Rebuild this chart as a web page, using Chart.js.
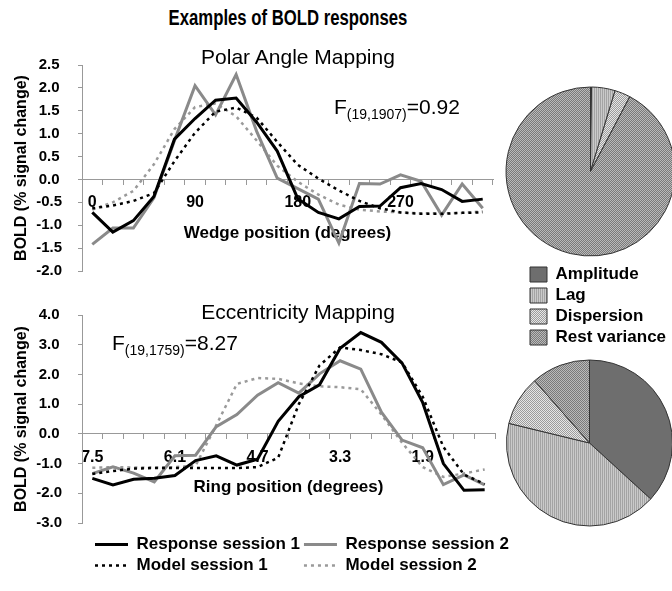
<!DOCTYPE html>
<html>
<head>
<meta charset="utf-8">
<script src="https://cdn.jsdelivr.net/npm/chart.js@4.4.1/dist/chart.umd.min.js"></script>
<style>
  body { margin: 0; width: 672px; height: 591px; overflow: hidden; background: #fff; font-family: 'Liberation Sans', Arial, sans-serif; }
  canvas { position: absolute; }
  .txt { position: absolute; color: #000; white-space: nowrap; line-height: 24px; z-index: 2; }
  .txt sub { font-size: 14px; }
</style>
</head>
<body>
<div class="txt" style="left:88px; top:6px; width:400px; text-align:center; font-weight:bold; font-size:22px; transform:scaleX(0.76)">Examples of BOLD responses</div>
<div class="txt" style="left:168px; top:45px; width:260px; text-align:center; font-size:21px">Polar Angle Mapping</div>
<div class="txt" style="left:334px; top:95px; font-size:21px">F<sub>(19,1907)</sub>=0.92</div>
<div class="txt" style="left:168px; top:300px; width:260px; text-align:center; font-size:21px">Eccentricity Mapping</div>
<div class="txt" style="left:112px; top:331px; font-size:21px">F<sub>(19,1759)</sub>=8.27</div>

<canvas id="polarChart" width="500" height="256" style="left:0; top:40px"></canvas>
<canvas id="ringChart" width="502" height="258" style="left:0; top:290px"></canvas>
<canvas id="lineLegend" width="900" height="50" style="left:91px; top:532px"></canvas>
<canvas id="polarPie" width="182" height="183" style="left:500px; top:80px"></canvas>
<canvas id="pieLegend" width="160" height="200" style="left:526px; top:262px"></canvas>
<canvas id="ringPie" width="182" height="176" style="left:500px; top:355px"></canvas>

<script>
// wedge positions (degrees) and the labels that are shown on the axis
const polarPositions = ['0','18','36','54','72','90','108','126','144','162','180','198','216','234','252','270','288','306','324','342']
const polarTicks = ['0','90','180','270']
const polarResp1 = [-0.72,-1.15,-0.9,-0.37,0.88,1.33,1.73,1.78,1.25,0.62,-0.42,-0.72,-0.86,-0.59,-0.58,-0.18,-0.09,-0.22,-0.48,-0.43]
const polarResp2 = [-1.42,-1.06,-1.06,-0.4,0.85,2.05,1.41,2.29,1.05,0.03,-0.2,-0.43,-1.39,-0.09,-0.1,0.1,-0.04,-0.78,-0.1,-0.63]
const polarModel1 = [-0.63,-0.57,-0.47,-0.3,0.4,1.02,1.48,1.57,1.35,0.82,0.32,0.02,-0.24,-0.47,-0.63,-0.72,-0.75,-0.75,-0.73,-0.72]
const polarModel2 = [-0.66,-0.5,-0.25,0.33,1.1,1.58,1.66,1.38,0.85,0.3,-0.05,-0.33,-0.55,-0.66,-0.7,-0.72,-0.74,-0.74,-0.73,-0.7]

// ring positions (degrees)
const ringPositions = ['7.5','7.15','6.8','6.45','6.1','5.75','5.4','5.05','4.7','4.35','4.0','3.65','3.3','2.95','2.6','2.25','1.9','1.55','1.2','0.85']
const ringTicks = ['7.5','6.1','4.7','3.3','1.9']
const ringResp1 = [-1.5,-1.72,-1.53,-1.49,-1.4,-0.9,-0.74,-1.05,-0.85,0.42,1.25,1.65,2.88,3.41,3.08,2.38,1.05,-1.0,-1.9,-1.88]
const ringResp2 = [-1.34,-1.11,-1.32,-1.62,-0.74,-0.72,0.24,0.65,1.3,1.72,1.37,2.02,2.46,2.18,0.73,-0.21,-0.47,-1.71,-1.38,-1.72]
const ringModel1 = [-1.35,-1.25,-1.17,-1.15,-1.15,-1.15,-1.15,-1.15,-1.12,-0.8,1.0,2.3,2.91,2.82,2.68,2.4,1.25,-0.44,-1.37,-1.69]
const ringModel2 = [-1.14,-1.12,-1.13,-1.13,-1.12,-1.07,0.29,1.68,1.88,1.85,1.7,1.6,1.57,1.5,0.65,-0.3,-1.12,-1.45,-1.33,-1.2]

// variance split (%)
const pieLabels = ['Amplitude','Lag','Dispersion','Rest variance']
const polarShares = [0.2, 4.5, 3.0, 92.3]
const ringShares = [36.8, 42.0, 9.7, 11.5]

const seriesNames = ['Response session 1','Model session 1','Response session 2','Model session 2']

Chart.defaults.font.family = "'Liberation Sans', Arial, sans-serif"
Chart.defaults.color = '#000'
Chart.defaults.animation = false

// line styles, same order as seriesNames
const styles = [
  {borderColor: '#000', borderWidth: 3},
  {borderColor: '#000', borderWidth: 2.5, borderDash: [3, 4]},
  {borderColor: '#8a8a8a', borderWidth: 3},
  {borderColor: '#9a9a9a', borderWidth: 2.5, borderDash: [3, 4]}
]

function lineSets(series){
  return series.map((d, i) => Object.assign({
    label: seriesNames[i],
    data: d,
    backgroundColor: styles[i].borderColor,
    pointRadius: 0,
    tension: 0,
    fill: false
  }, styles[i]))
}

function lineOptions(shown, xTitle, yMin, yMax, step){
  return {
    responsive: false,
    events: [],
    layout: {padding: {left: 8, right: 7, top: 15, bottom: 11}},
    plugins: {legend: {display: false}, tooltip: {enabled: false}},
    scales: {
      x: {
        position: {y: 0},
        offset: true,
        grid: {drawOnChartArea: false, offset: true, tickLength: 5, color: '#999'},
        border: {color: '#999'},
        ticks: {
          autoSkip: false, maxRotation: 0, padding: 9,
          font: {size: 16, weight: 'bold'},
          callback: function(v){
            const l = this.getLabelForValue(v)
            return shown.includes(l) ? l : ''
          }
        },
        title: {display: true, text: xTitle, font: {size: 17, weight: 'bold'}, padding: {top: 1, bottom: 0}}
      },
      y: {
        min: yMin, max: yMax,
        afterFit: s => { s.width = 74 },
        grid: {drawOnChartArea: false, tickLength: 4, color: '#999'},
        border: {color: '#999'},
        ticks: {
          stepSize: step, padding: 16, crossAlign: 'center',
          font: {size: 15, weight: 'bold'},
          callback: v => v.toFixed(1)
        },
        title: {display: true, text: 'BOLD (% signal change)', font: {size: 16, weight: 'bold'}, padding: {top: 4, bottom: 0}}
      }
    }
  }
}

const polarOpts = lineOptions(polarTicks, 'Wedge position (degrees)', -2, 2.5, 0.5)
polarOpts.layout.padding.top = 16
polarOpts.layout.padding.bottom = 12
new Chart('polarChart', {
  type: 'line',
  data: {labels: polarPositions, datasets: lineSets([polarResp1, polarModel1, polarResp2, polarModel2])},
  options: polarOpts
})

new Chart('ringChart', {
  type: 'line',
  data: {labels: ringPositions, datasets: lineSets([ringResp1, ringModel1, ringResp2, ringModel2])},
  options: lineOptions(ringTicks, 'Ring position (degrees)', -3, 4, 1)
})

// legend for the two line charts, two columns
new Chart('lineLegend', {
  type: 'line',
  data: {labels: [], datasets: lineSets([[], [], [], []])},
  options: {
    responsive: false,
    events: [],
    scales: {x: {display: false}, y: {display: false}},
    plugins: {
      tooltip: {enabled: false},
      legend: {
        position: 'left', align: 'start',
        labels: {boxWidth: 33, boxHeight: 0, padding: 4, color: '#000', font: {size: 17, weight: 'bold'}}
      }
    }
  }
})

// fill patterns for the pies
function pattern(a, b, kind){
  const c = document.createElement('canvas')
  c.width = 2; c.height = 2
  const g = c.getContext('2d')
  g.fillStyle = a; g.fillRect(0, 0, 2, 2)
  g.fillStyle = b
  if(kind === 'stripes'){ g.fillRect(1, 0, 1, 2) }
  else { g.fillRect(0, 0, 1, 1); g.fillRect(1, 1, 1, 1) }
  return g.createPattern(c, 'repeat')
}
const pieFills = [
  '#6e6e6e',
  pattern('#a4a4a4', '#cacaca', 'stripes'),
  pattern('#9c9c9c', '#e6e6e6', 'checker'),
  pattern('#7a7a7a', '#bababa', 'checker')
]

function pieOptions(r, pad){
  return {
    responsive: false,
    events: [],
    radius: r,
    layout: {padding: pad},
    plugins: {legend: {display: false}, tooltip: {enabled: false}}
  }
}

new Chart('polarPie', {
  type: 'pie',
  data: {labels: pieLabels, datasets: [{data: polarShares, backgroundColor: pieFills, borderColor: '#333', borderWidth: 1}]},
  options: pieOptions(84.5, {right: 1})
})

new Chart('ringPie', {
  type: 'pie',
  data: {labels: pieLabels, datasets: [{data: ringShares, backgroundColor: pieFills, borderColor: '#333', borderWidth: 1}]},
  options: pieOptions(83, {right: 3})
})

// shared legend of the two pies, one item per row
new Chart('pieLegend', {
  type: 'pie',
  data: {labels: pieLabels, datasets: [{data: [], backgroundColor: pieFills, borderColor: '#333', borderWidth: 1}]},
  options: {
    responsive: false,
    events: [],
    plugins: {
      tooltip: {enabled: false},
      legend: {
        position: 'top', align: 'start',
        labels: {
          boxWidth: 17, boxHeight: 15, padding: 4, color: '#000', font: {size: 17, weight: 'bold'},
          generateLabels: () => pieLabels.map((t, i) => ({text: t, fillStyle: pieFills[i], strokeStyle: '#333', lineWidth: 1, fontColor: '#000', index: i}))
        }
      }
    }
  }
})
</script>
</body>
</html>
